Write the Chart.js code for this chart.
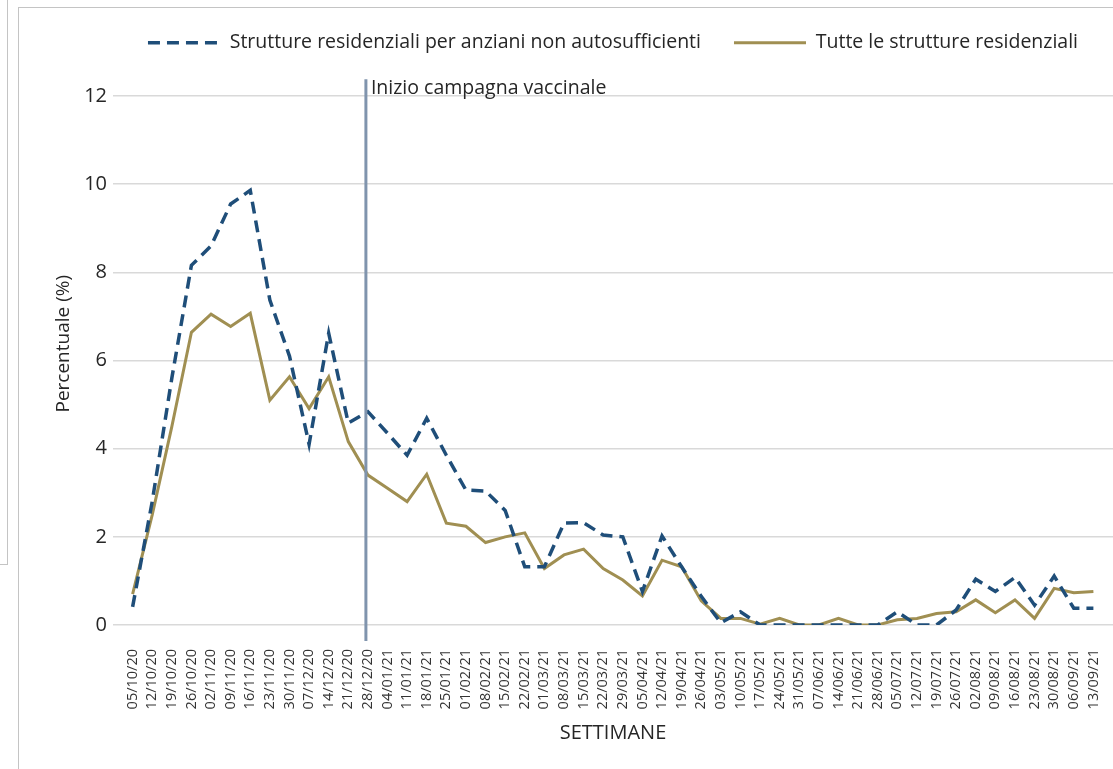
<!DOCTYPE html>
<html>
<head>
<meta charset="utf-8">
<script src="https://cdn.jsdelivr.net/npm/chart.js@4.4.1/dist/chart.umd.min.js"></script>
<style>
  html, body { margin: 0; padding: 0; background: #fff; }
  body { width: 1113px; height: 769px; position: relative; overflow: hidden; }
  #frame { position: absolute; left: 18px; top: 7px; width: 1200px; height: 800px;
           border-left: 1.5px solid #c4c4c4; border-top: 1.5px solid #c4c4c4; }
  #outer { position: absolute; left: 0; top: -2px; width: 7px; height: 566px;
           border-right: 1.5px solid #c4c4c4; border-bottom: 1.5px solid #c4c4c4; }
  #wrap { position: absolute; left: 0; top: 0; width: 1113px; height: 769px; }
</style>
</head>
<body>
<div id="outer"></div>
<div id="frame"></div>
<div id="wrap"><canvas id="myChart"></canvas></div>
<script>
// settimane (lunedi di ogni settimana)
const weeks = ['05/10/20','12/10/20','19/10/20','26/10/20','02/11/20','09/11/20','16/11/20','23/11/20',
  '30/11/20','07/12/20','14/12/20','21/12/20','28/12/20','04/01/21','11/01/21','18/01/21','25/01/21',
  '01/02/21','08/02/21','15/02/21','22/02/21','01/03/21','08/03/21','15/03/21','22/03/21','29/03/21',
  '05/04/21','12/04/21','19/04/21','26/04/21','03/05/21','10/05/21','17/05/21','24/05/21','31/05/21',
  '07/06/21','14/06/21','21/06/21','28/06/21','05/07/21','12/07/21','19/07/21','26/07/21','02/08/21',
  '09/08/21','16/08/21','23/08/21','30/08/21','06/09/21','13/09/21'];

// strutture residenziali per anziani non autosufficienti (%)
const anziani = [0.41, 2.8, 5.6, 8.16, 8.6, 9.55, 9.86, 7.37, 6.1, 4.1, 6.62, 4.58, 4.84, 4.35, 3.85,
  4.69, 3.85, 3.06, 3.04, 2.6, 1.32, 1.32, 2.31, 2.32, 2.04, 2.0, 0.76, 2.02, 1.32, 0.65, 0.05, 0.3,
  0, 0, 0, 0, 0, 0, 0, 0.3, 0, 0, 0.34, 1.04, 0.76, 1.08, 0.45, 1.11, 0.38, 0.38];

// tutte le strutture residenziali (%)
const tutte = [0.7, 2.5, 4.5, 6.64, 7.05, 6.77, 7.07, 5.1, 5.63, 4.91, 5.63, 4.16, 3.4, 3.1, 2.8,
  3.42, 2.31, 2.24, 1.87, 2.0, 2.09, 1.28, 1.59, 1.72, 1.28, 1.02, 0.66, 1.47, 1.32, 0.55, 0.15, 0.15,
  0.02, 0.15, 0, 0, 0.15, 0, 0, 0.12, 0.15, 0.26, 0.3, 0.57, 0.28, 0.57, 0.15, 0.83, 0.73, 0.76];

const vaccineWeek = '28/12/20';
const vaccineText = 'Inizio campagna vaccinale';

// one empty slot on each side, like the original axis
const labels = [''].concat(weeks, ['']);
const pad = arr => [null].concat(arr, [null]);

const vaccineLine = {
  id: 'vaccineLine',
  afterDatasetsDraw(chart) {
    const ctx = chart.ctx;
    const yScale = chart.scales.y;
    const x = chart.scales.x.getPixelForValue(labels.indexOf(vaccineWeek)) - 2;
    ctx.save();
    ctx.strokeStyle = '#8094ad';
    ctx.lineWidth = 3;
    ctx.beginPath();
    ctx.moveTo(x, yScale.getPixelForValue(12.38));
    ctx.lineTo(x, chart.chartArea.bottom + 16);
    ctx.stroke();
    ctx.fillStyle = '#262626';
    ctx.font = '19.5px "Open Sans"';
    ctx.textBaseline = 'middle';
    ctx.fillText(vaccineText, x + 5, yScale.getPixelForValue(12) - 8);
    ctx.restore();
  }
};

Chart.defaults.font.family = '"Open Sans", sans-serif';
Chart.defaults.color = '#262626';

const config = {
  type: 'line',
  data: {
    labels: labels,
    datasets: [{
      label: 'Strutture residenziali per anziani non autosufficienti',
      data: pad(anziani),
      borderColor: '#1f4e79',
      backgroundColor: '#1f4e79',
      borderWidth: 3.5,
      borderDash: [12, 7],
      pointRadius: 0,
      tension: 0,
      fill: false
    }, {
      label: 'Tutte le strutture residenziali',
      data: pad(tutte),
      borderColor: '#a08f52',
      backgroundColor: '#a08f52',
      borderWidth: 3,
      pointRadius: 0,
      tension: 0,
      fill: false
    }]
  },
  options: {
    responsive: false,
    animation: false,
    layout: { padding: { top: 0, right: 0, bottom: 0, left: 0 } },
    plugins: {
      legend: {
        position: 'top',
        fullSize: false,
        labels: {
          usePointStyle: true,
          pointStyle: 'line',
          pointStyleWidth: 72,
          boxWidth: 72,
          padding: 33,
          color: '#262626',
          font: { size: 19.5 },
          generateLabels(chart) {
            const items = Chart.defaults.plugins.legend.labels.generateLabels(chart);
            items.forEach(it => {
              it.lineDash = chart.data.datasets[it.datasetIndex].borderDash || [];
            });
            return items;
          }
        }
      },
      tooltip: { enabled: false }
    },
    scales: {
      x: {
        grid: { display: false, drawTicks: true, tickLength: 21 },
        border: { display: false },
        ticks: {
          autoSkip: false,
          maxRotation: 90,
          minRotation: 90,
          padding: 3,
          color: '#333',
          font: { size: 14.5 }
        },
        title: {
          display: true,
          text: 'SETTIMANE',
          color: '#262626',
          font: { size: 20 },
          padding: { top: 0, bottom: 24 }
        },
        afterFit(scale) {
          scale.height = 144;
          scale.paddingLeft = 0;
          scale.paddingRight = 0;
        }
      },
      y: {
        min: 0,
        max: 12.76,
        grid: { color: '#d9d9d9', lineWidth: 1.5, drawTicks: false },
        border: { display: false },
        ticks: { stepSize: 2, includeBounds: false, padding: 6, color: '#262626', font: { size: 20 } },
        title: {
          display: true,
          text: 'Percentuale (%)',
          color: '#262626',
          font: { size: 19 },
          padding: { top: 52, bottom: 0 }
        },
        afterFit(scale) {
          scale.width = 113;
        }
      }
    }
  },
  plugins: [vaccineLine]
};

const canvas = document.getElementById('myChart');
canvas.width = 1113;
canvas.height = 769;
const grafica = new Chart(canvas.getContext('2d'), config);
</script>
</body>
</html>
